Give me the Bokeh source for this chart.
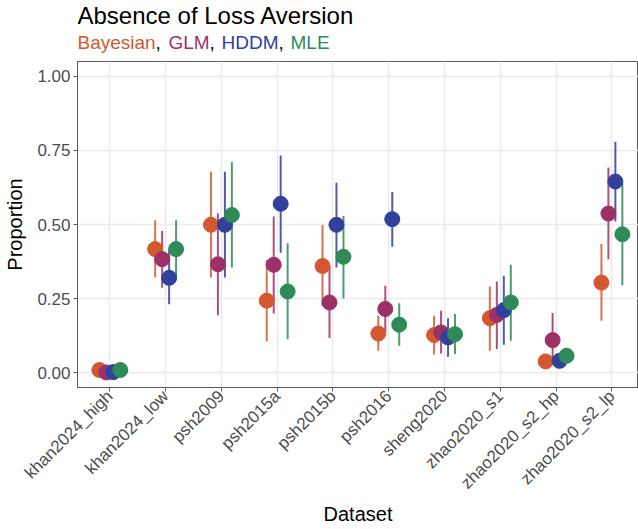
import math
from bokeh.plotting import figure
from bokeh.models import ColumnDataSource, FixedTicker, Range1d
from bokeh.layouts import column
from bokeh.core.properties import value
from bokeh.embed import file_html
from bokeh.resources import INLINE

nan = float("nan")

datasets = ["khan2024_high", "khan2024_low", "psh2009", "psh2015a", "psh2015b",
            "psh2016", "sheng2020", "zhao2020_s1", "zhao2020_s2_hp", "zhao2020_s2_lp"]

methods = ["Bayesian", "GLM", "HDDM", "MLE"]
colors = ["#D4582F", "#9C3168", "#31409A", "#2E8A57"]

bayes = [0.009, 0.417, 0.499, 0.243, 0.360, 0.132, 0.127, 0.184, 0.038, 0.304]
bayes_lo = [nan, 0.321, 0.321, 0.106, 0.226, 0.074, 0.061, 0.074, nan, 0.175]
bayes_hi = [nan, 0.514, 0.678, 0.380, 0.498, 0.192, 0.192, 0.291, nan, 0.434]

glm = [0.001, 0.383, 0.366, 0.364, 0.237, 0.215, 0.136, 0.195, 0.110, 0.537]
glm_lo = [nan, 0.287, 0.194, 0.200, 0.117, 0.136, 0.065, 0.080, 0.040, 0.383]
glm_hi = [nan, 0.478, 0.538, 0.527, 0.360, 0.293, 0.209, 0.308, 0.201, 0.692]

hddm = [0.002, 0.320, 0.499, 0.570, 0.499, 0.518, 0.119, 0.211, 0.040, 0.645]
hddm_lo = [nan, 0.231, 0.321, 0.405, 0.355, 0.425, 0.054, 0.094, nan, 0.510]
hddm_hi = [nan, 0.413, 0.678, 0.733, 0.641, 0.610, 0.184, 0.327, nan, 0.779]

mle = [0.009, 0.417, 0.532, 0.274, 0.391, 0.162, 0.130, 0.237, 0.057, 0.467]
mle_lo = [nan, 0.321, 0.355, 0.113, 0.250, 0.091, 0.063, 0.108, nan, 0.295]
mle_hi = [nan, 0.514, 0.711, 0.437, 0.529, 0.234, 0.198, 0.364, nan, 0.639]

y_ticks = [0, 0.25, 0.5, 0.75, 1.0]
y_tick_labels = ["0.00", "0.25", "0.50", "0.75", "1.00"]

title_text = "Absence of Loss Aversion"
x_title = "Dataset"
y_title = "Proportion"

series = [(bayes, bayes_lo, bayes_hi), (glm, glm_lo, glm_hi),
          (hddm, hddm_lo, hddm_hi), (mle, mle_lo, mle_hi)]

dodge = 0.5
n = len(methods)
offsets = [(-dodge / 2) + dodge / n * (k + 0.5) for k in range(n)]

FONT = "Liberation Sans"
W = 638
LEFT = 77
HEAD_H = 61
FOOT_H = 27
MAIN_H = 529 - HEAD_H - FOOT_H
FRAME_H = 326


def blank(height):
    f = figure(width=W, height=height, output_backend="svg", toolbar_location=None,
               x_range=Range1d(LEFT, W), y_range=Range1d(height, 0),
               min_border_left=LEFT, min_border_right=0,
               min_border_top=0, min_border_bottom=0)
    f.axis.visible = False
    f.grid.visible = False
    f.outline_line_color = None
    f.background_fill_color = "white"
    f.border_fill_color = "white"
    return f


# ---- header (title + coloured subtitle), x in page pixels ----
head = blank(HEAD_H)
head.text(x=[LEFT], y=[15], text=[title_text], text_font=value(FONT),
          text_font_size="24px", text_color="black",
          text_baseline="middle", text_align="left")
word_x = [77, 168, 221, 290]
comma_x = [155, 209, 278]
for name, col, sx in zip(methods, colors, word_x):
    head.text(x=[sx], y=[42], text=[name], text_font=value(FONT),
              text_font_size="19px", text_color=col,
              text_baseline="middle", text_align="left")
head.text(x=comma_x, y=[42] * len(comma_x), text=[","] * len(comma_x),
          text_font=value(FONT), text_font_size="19px", text_color="black",
          text_baseline="middle", text_align="left")

# ---- footer (x axis title) ----
foot = blank(FOOT_H)
foot.text(x=[(LEFT + W) / 2], y=[11], text=[x_title], text_font=value(FONT),
          text_font_size="20px", text_color="black",
          text_baseline="middle", text_align="center")

# ---- main plot ----
xs = list(range(1, len(datasets) + 1))
p = figure(width=W, height=MAIN_H, output_backend="svg", toolbar_location=None,
           x_range=Range1d(0.42, 10.477), y_range=Range1d(-0.05, 1.05),
           min_border_left=LEFT, min_border_top=0,
           min_border_bottom=MAIN_H - FRAME_H, min_border_right=0)
p.background_fill_color = "white"
p.border_fill_color = "white"
p.outline_line_color = "#5A5A5A"
p.outline_line_width = 1

p.xaxis.ticker = FixedTicker(ticks=xs)
p.xaxis.major_label_overrides = {i + 1: d for i, d in enumerate(datasets)}
p.yaxis.ticker = FixedTicker(ticks=y_ticks)
p.yaxis.major_label_overrides = dict(zip(y_ticks, y_tick_labels))
p.xgrid.ticker = FixedTicker(ticks=xs)
p.ygrid.ticker = FixedTicker(ticks=y_ticks)
for g in (p.xgrid, p.ygrid):
    g.grid_line_color = "#EBEBEB"
    g.grid_line_width = 1.6

for ax in (p.xaxis, p.yaxis):
    ax.axis_line_color = "#5A5A5A"
    ax.major_tick_line_color = "#5A5A5A"
    ax.major_tick_out = 4
    ax.major_tick_in = 0
    ax.minor_tick_line_color = None
    ax.major_label_text_font = FONT
    ax.major_label_text_color = "#4D4D4D"
    ax.major_label_text_font_size = "17px"
    ax.axis_label_text_font = FONT
    ax.axis_label_text_font_size = "20px"
    ax.axis_label_text_font_style = "normal"
    ax.axis_label_text_color = "black"
    ax.major_label_standoff = 3

p.xaxis.major_label_standoff = 2
p.xaxis.major_label_orientation = math.pi / 4
p.yaxis.axis_label = y_title
p.yaxis.axis_label_standoff = 8

# error bars first
for (vals, lo, hi), off, col in zip(series, offsets, colors):
    src = ColumnDataSource(dict(x=[x + off for x in xs], lo=lo, hi=hi))
    p.segment(x0="x", y0="lo", x1="x", y1="hi", source=src,
              line_color=col, line_width=2, line_alpha=0.85)
# points
for (vals, lo, hi), off, col in zip(series, offsets, colors):
    src = ColumnDataSource(dict(x=[x + off for x in xs], y=vals))
    p.scatter(x="x", y="y", source=src, size=15, fill_color=col, line_color=col)

layout = column(head, p, foot, spacing=0)
open("out.html", "w").write(file_html(layout, INLINE))
